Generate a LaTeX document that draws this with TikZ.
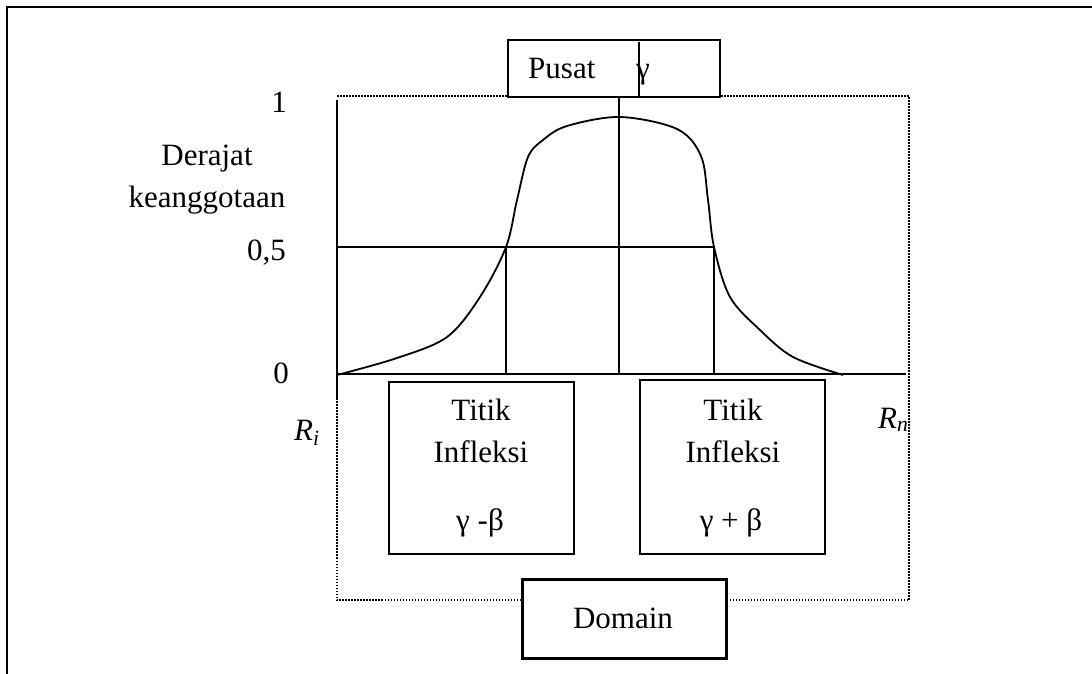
\documentclass[tikz,border=0pt]{standalone}
\usepackage{fontspec}
\setmainfont{Liberation Serif}
\begin{document}
\begin{tikzpicture}[x=1pt,y=-1pt,
  lbl/.style={font=\fontsize{31}{38}\selectfont, inner sep=0pt},
  thin/.style={line width=1.8pt},
  dot/.style={line width=1.6pt, dash pattern=on 1.5pt off 1.5pt},
  boxn/.style={draw, line width=1.8pt, fill=white, inner sep=0pt, anchor=north west},
]
\useasboundingbox (0,0) rectangle (1092,674);
% outer frame (left and top)
\draw[line width=2.6pt] (7,674) -- (7,7) -- (1092,7);

% key coordinates
\coordinate (ytop) at (337,100);
\coordinate (org) at (337,374);
\coordinate (ysol) at (337,400);
\coordinate (ybot) at (337,600);
\coordinate (xend) at (906,374);
\coordinate (half0) at (337,247);
\coordinate (hl) at (506,247);
\coordinate (hr) at (714,247);
\coordinate (hlb) at (506,374);
\coordinate (hrb) at (714,374);
\coordinate (ctop) at (619,96);
\coordinate (cbot) at (619,374);
\coordinate (dtl) at (337,96);
\coordinate (dtr) at (909,96);
\coordinate (dbr) at (909,600);

% dotted domain frame
\draw[dot] (dtl) -- (dtr) -- (dbr) -- (ybot) -- (ysol);

% axes
\draw[thin] (ytop) -- (ysol);
\draw[thin] (org) -- (xend);
\draw[thin] (half0) -- (hr);
\draw[thin] (hl) -- (hlb);
\draw[thin] (hr) -- (hrb);
\draw[thin] (ctop) -- (cbot);

% curve
\draw[thin, line join=round] plot[smooth, tension=0.55] coordinates {(337,375) (397,358) (447,337) (480,297) (506,247) (517,200) (528,157) (543,140) (567,126) (620,117) (677,129) (701,156) (708,200) (714,247) (730,297) (760,330) (793,357) (843,375)};

% Pusat box
\node[boxn, minimum width=212pt, minimum height=57pt] (pusat) at (507,39) {};
\coordinate (gl1) at (639,42);
\coordinate (gl2) at (639,98);
\node[lbl, anchor=base west] (pusatt) at (528,79) {Pusat};
\node[lbl, anchor=base west] (gamma) at (636,79) {γ};
\draw[thin] (gl1) -- (gl2);

% Titik boxes
\node[boxn, minimum width=185pt, minimum height=172pt] (tl) at (388,381) {};
\node[boxn, minimum width=185pt, minimum height=174pt] (tr) at (639,379) {};
\node[lbl, anchor=base] (tl1) at (481,420) {Titik};
\node[lbl, anchor=base] (tl2) at (481,462) {Infleksi};
\node[lbl, anchor=base] (tl3) at (480,530) {γ -β};
\node[lbl, anchor=base] (tr1) at (733,420) {Titik};
\node[lbl, anchor=base] (tr2) at (733,462) {Infleksi};
\node[lbl, anchor=base] (tr3) at (731,530) {γ + β};

% Domain box
\node[boxn, line width=3.2pt, minimum width=204pt, minimum height=79pt] (dom) at (521,578) {};
\node[lbl, anchor=base] (domt) at (623,628) {Domain};

% axis labels
\node[lbl, anchor=base east] (l1) at (287,113) {1};
\node[lbl, anchor=base] (der) at (207,165) {Derajat};
\node[lbl, anchor=base] (kea) at (207,207) {keanggotaan};
\node[lbl, anchor=base east] (l05) at (286,260) {0,5};
\node[lbl, anchor=base east] (l0) at (289,383) {0};
\node[lbl, anchor=base west] (ri) at (294,440) {\textit{R}\textsubscript{\textit{i}}};
\node[lbl, anchor=base west] (rn) at (878,428) {\textit{R}\textsubscript{\textit{n}}};
\end{tikzpicture}
\end{document}
